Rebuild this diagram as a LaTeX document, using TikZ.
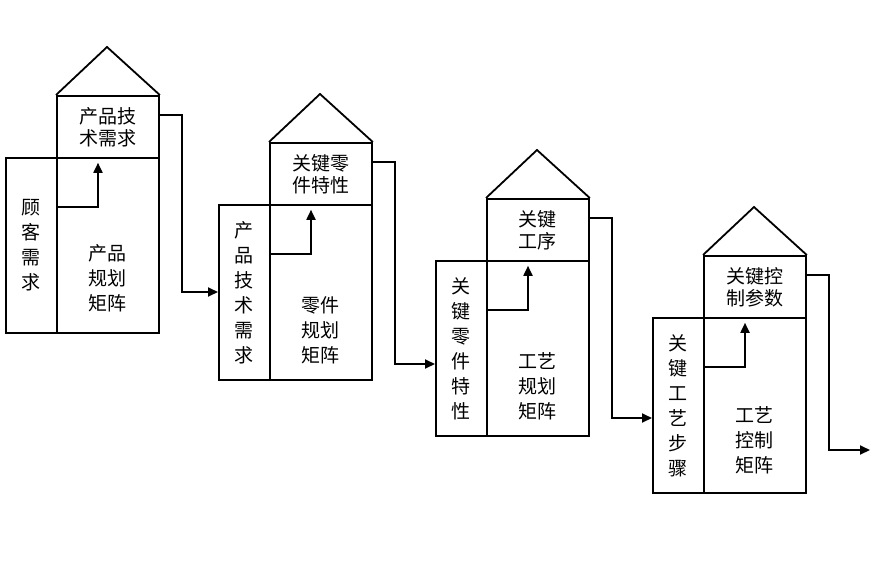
\documentclass[tikz,border=0pt]{standalone}
\usepackage{fontspec}
\newfontfamily\cjk{Noto Sans CJK SC}
\usetikzlibrary{arrows.meta}
\begin{document}
\begin{tikzpicture}[x=1pt,y=-1pt,line width=1.8pt,
  box/.style={draw,anchor=north west,inner sep=0pt,font=\cjk\fontsize{19}{22}\selectfont,align=center},
  arr/.style={-{Triangle[length=10pt,width=9pt]}},
  lbl/.style={font=\cjk\fontsize{19}{25}\selectfont,align=center,inner sep=0pt}]
\useasboundingbox (0,0) rectangle (874,568);
\def\house#1#2#3#4#5#6#7#8{%
\pgfmathsetmacro\xa{#2}\pgfmathsetmacro\xb{#2+51}\pgfmathsetmacro\xc{#2+153}
\pgfmathsetmacro\ya{#3}\pgfmathsetmacro\yb{#3+62}\pgfmathsetmacro\yc{#3+237}
\node[box,minimum width=51pt,minimum height=175pt] (#1l) at (\xa,\yb) {};
\node[box,minimum width=102pt,minimum height=175pt] (#1m) at (\xb,\yb) {};
\node[box,minimum width=102pt,minimum height=62pt] (#1t) at (\xb,\ya) {#6};
\coordinate (#1apex) at ({\xb+51},{\ya-48});
\draw (#1t.north west) -- (#1apex) -- (#1t.north east);
\node[lbl] at (#1l.center) {#4};
\node[lbl] at ([yshift=#7pt]#1m.center) {#5};
\coordinate (#1c) at ({\xb+42},{\yb+50});
\draw[arr] ([yshift=-50pt]#1m.north west) -- (#1c) -- ([xshift=42pt,yshift=-4pt]#1t.south west);
\coordinate (#1o) at ({\xc+24},{\ya+20});
\coordinate (#1d) at ({\xc+24},{\yb+#8});
}
\house{a}{5}{95}{顾\\客\\需\\求}{产品\\规划\\矩阵}{产品技\\术需求}{-33}{135}
\house{b}{218}{142}{产\\品\\技\\术\\需\\求}{零件\\规划\\矩阵}{关键零\\件特性}{-38}{160}
\house{c}{435}{198}{关\\键\\零\\件\\特\\性}{工艺\\规划\\矩阵}{关键\\工序}{-38}{158}
\house{d}{652}{255}{关\\键\\工\\艺\\步\\骤}{工艺\\控制\\矩阵}{关键控\\制参数}{-35}{133}
\draw[arr] ([yshift=-20pt]at.north east) -- (ao) -- (ad) -- (ad -| bl.west);
\draw[arr] ([yshift=-20pt]bt.north east) -- (bo) -- (bd) -- (bd -| cl.west);
\draw[arr] ([yshift=-20pt]ct.north east) -- (co) -- (cd) -- (cd -| dl.west);
\coordinate (end) at (870,0);
\draw[arr] ([yshift=-20pt]dt.north east) -- (do) -- (dd) -- (dd -| end);
\end{tikzpicture}
\end{document}
